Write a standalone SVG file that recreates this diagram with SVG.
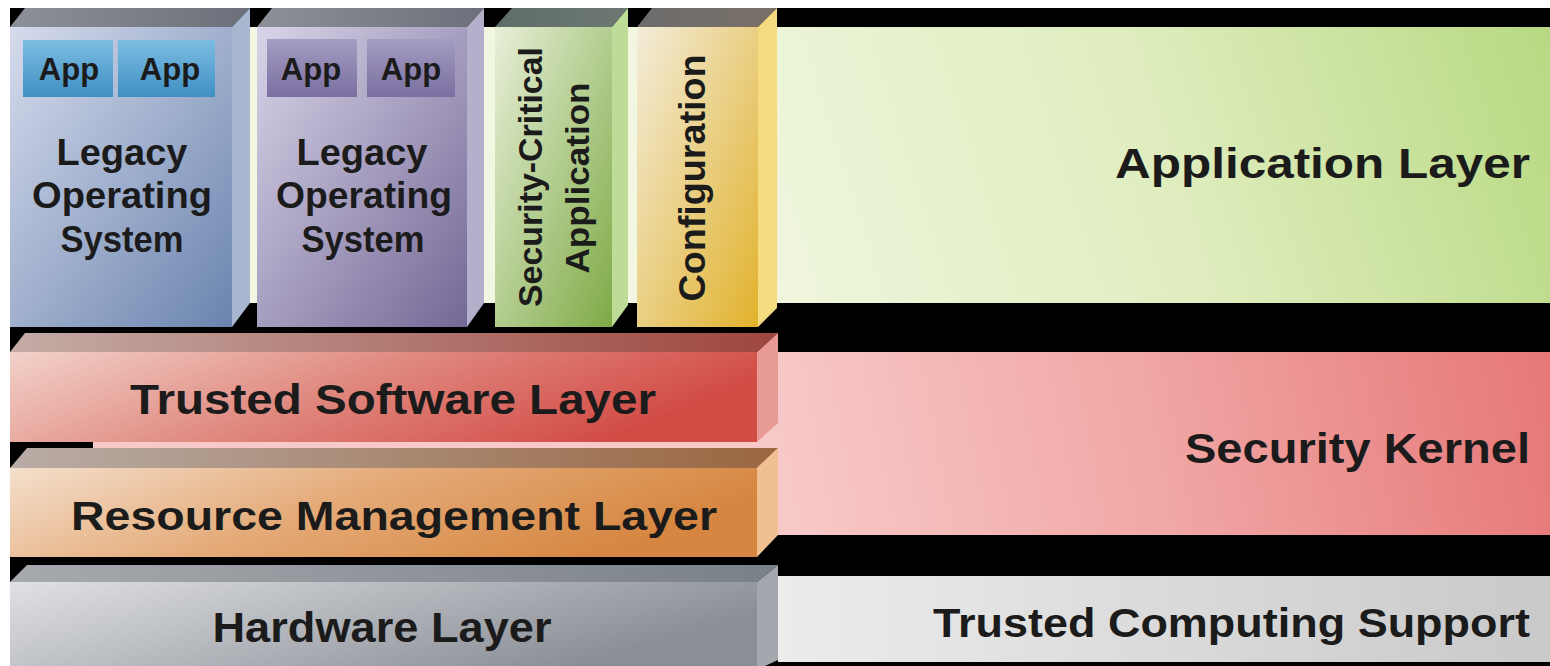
<svg xmlns="http://www.w3.org/2000/svg" width="1550" height="666" viewBox="0 0 1550 666">
  <defs>
    <linearGradient id="gGreenBand" gradientUnits="userSpaceOnUse" x1="700" y1="300" x2="1550" y2="30">
      <stop offset="0" stop-color="#f2f7e2"/>
      <stop offset="0.55" stop-color="#dfedbe"/>
      <stop offset="1" stop-color="#b8d982"/>
    </linearGradient>
    <linearGradient id="gRedBand" gradientUnits="userSpaceOnUse" x1="778" y1="520" x2="1550" y2="370">
      <stop offset="0" stop-color="#f7cac9"/>
      <stop offset="0.5" stop-color="#f0a6a4"/>
      <stop offset="1" stop-color="#e67878"/>
    </linearGradient>
    <linearGradient id="gGrayBand" gradientUnits="userSpaceOnUse" x1="778" y1="0" x2="1550" y2="0">
      <stop offset="0" stop-color="#ececec"/>
      <stop offset="1" stop-color="#c9c9c9"/>
    </linearGradient>
    <linearGradient id="gB1" x1="0" y1="0" x2="1" y2="1">
      <stop offset="0" stop-color="#d6dbec"/>
      <stop offset="1" stop-color="#6a84ae"/>
    </linearGradient>
    <linearGradient id="gB2" x1="0" y1="0" x2="1" y2="1">
      <stop offset="0" stop-color="#d8d4e8"/>
      <stop offset="1" stop-color="#746896"/>
    </linearGradient>
    <linearGradient id="gB3" x1="0" y1="0" x2="1" y2="1">
      <stop offset="0" stop-color="#e8efd8"/>
      <stop offset="1" stop-color="#7eaa46"/>
    </linearGradient>
    <linearGradient id="gB4" x1="0" y1="0" x2="1" y2="1">
      <stop offset="0" stop-color="#f3ecda"/>
      <stop offset="1" stop-color="#e1b22c"/>
    </linearGradient>
    <linearGradient id="gTop" x1="0" y1="0" x2="1" y2="0">
      <stop offset="0" stop-color="#8c9098"/>
      <stop offset="1" stop-color="#6c707a"/>
    </linearGradient>
    <linearGradient id="gTopG" x1="0" y1="0" x2="1" y2="0">
      <stop offset="0" stop-color="#5f6e68"/>
      <stop offset="1" stop-color="#6e7872"/>
    </linearGradient>
    <linearGradient id="gTopY" x1="0" y1="0" x2="1" y2="0">
      <stop offset="0" stop-color="#6c6c6c"/>
      <stop offset="1" stop-color="#7a7068"/>
    </linearGradient>
    <linearGradient id="gAppBlue" x1="0" y1="0" x2="0" y2="1">
      <stop offset="0" stop-color="#7cbde2"/>
      <stop offset="1" stop-color="#3f8fc4"/>
    </linearGradient>
    <linearGradient id="gAppPurple" x1="0" y1="0" x2="0" y2="1">
      <stop offset="0" stop-color="#a49cc2"/>
      <stop offset="1" stop-color="#7a6fa0"/>
    </linearGradient>
    <linearGradient id="gTsF" x1="0" y1="0" x2="1" y2="0.3">
      <stop offset="0" stop-color="#f2d2ca"/>
      <stop offset="0.5" stop-color="#e08a80"/>
      <stop offset="1" stop-color="#d24c46"/>
    </linearGradient>
    <linearGradient id="gTsT" x1="0" y1="0" x2="1" y2="0">
      <stop offset="0" stop-color="#c4aca6"/>
      <stop offset="1" stop-color="#9e463e"/>
    </linearGradient>
    <linearGradient id="gRmF" x1="0" y1="0" x2="1" y2="0.3">
      <stop offset="0" stop-color="#f4dfcc"/>
      <stop offset="0.5" stop-color="#e4aa78"/>
      <stop offset="1" stop-color="#d68640"/>
    </linearGradient>
    <linearGradient id="gRmT" x1="0" y1="0" x2="1" y2="0">
      <stop offset="0" stop-color="#b8aca6"/>
      <stop offset="1" stop-color="#9a6640"/>
    </linearGradient>
    <linearGradient id="gHwF" x1="0" y1="0" x2="1" y2="0.4">
      <stop offset="0" stop-color="#e0e1e4"/>
      <stop offset="0.5" stop-color="#b4b7bc"/>
      <stop offset="1" stop-color="#8a8e96"/>
    </linearGradient>
    <linearGradient id="gHwT" x1="0" y1="0" x2="1" y2="0">
      <stop offset="0" stop-color="#a6aaae"/>
      <stop offset="1" stop-color="#7a8088"/>
    </linearGradient>
  </defs>
  <style>
    .t { font-family: "Liberation Sans", Arial, sans-serif; font-weight: bold; fill: #1b1b1b; }
    .c { text-anchor: middle; }
    .r { text-anchor: end; }
  </style>

  <!-- background -->
  <rect x="0" y="0" width="1550" height="666" fill="#ffffff"/>
  <rect x="10" y="8" width="1540" height="658" fill="#000000"/>

  <!-- background bands -->
  <g id="band-application">
    <rect x="10" y="27" width="1540" height="276" fill="url(#gGreenBand)"/>
    <text class="t r" x="1530" y="178" font-size="42" textLength="415" lengthAdjust="spacingAndGlyphs">Application Layer</text>
  </g>
  <g id="band-kernel">
    <rect x="93" y="352" width="1457" height="183" fill="url(#gRedBand)"/>
    <text class="t r" x="1530" y="463" font-size="42" textLength="345" lengthAdjust="spacingAndGlyphs">Security Kernel</text>
  </g>
  <g id="band-tcs">
    <rect x="778" y="576" width="772" height="86" fill="url(#gGrayBand)"/>
    <text class="t r" x="1530" y="637" font-size="40" textLength="597" lengthAdjust="spacingAndGlyphs">Trusted Computing Support</text>
  </g>

  <!-- box 1 -->
  <g id="legacy-os-1">
    <polygon points="10,27 25,8 250,8 232,27" fill="url(#gTop)"/>
    <polygon points="232,27 250,8 250,303 232,327" fill="#a9b6d0"/>
    <rect x="10" y="27" width="222" height="300" fill="url(#gB1)"/>
    <rect x="23" y="40" width="90" height="57" fill="url(#gAppBlue)"/>
    <rect x="118" y="40" width="97" height="57" fill="url(#gAppBlue)"/>
    <text class="t c" x="69" y="80" font-size="31">App</text>
    <text class="t c" x="170" y="80" font-size="31">App</text>
    <text class="t c" x="122" y="165" font-size="36" textLength="131" lengthAdjust="spacingAndGlyphs">Legacy</text>
    <text class="t c" x="122" y="208" font-size="36" textLength="180" lengthAdjust="spacingAndGlyphs">Operating</text>
    <text class="t c" x="122" y="252" font-size="36" textLength="123" lengthAdjust="spacingAndGlyphs">System</text>
  </g>

  <!-- box 2 -->
  <g id="legacy-os-2">
    <polygon points="257,27 272,8 484,8 467,27" fill="url(#gTop)"/>
    <polygon points="467,27 484,8 484,303 467,327" fill="#b4b0cc"/>
    <rect x="257" y="27" width="210" height="300" fill="url(#gB2)"/>
    <rect x="267" y="39" width="90" height="58" fill="url(#gAppPurple)"/>
    <rect x="367" y="39" width="88" height="58" fill="url(#gAppPurple)"/>
    <text class="t c" x="311" y="80" font-size="31">App</text>
    <text class="t c" x="411" y="80" font-size="31">App</text>
    <text class="t c" x="362" y="165" font-size="36" textLength="131" lengthAdjust="spacingAndGlyphs">Legacy</text>
    <text class="t c" x="364" y="208" font-size="36" textLength="176" lengthAdjust="spacingAndGlyphs">Operating</text>
    <text class="t c" x="363" y="252" font-size="36" textLength="123" lengthAdjust="spacingAndGlyphs">System</text>
  </g>

  <!-- box 3 -->
  <g id="security-critical-app">
    <polygon points="495,27 512,8 628,8 612,27" fill="url(#gTopG)"/>
    <polygon points="612,27 628,8 628,305 612,327" fill="#bcdc98"/>
    <rect x="495" y="27" width="117" height="300" fill="url(#gB3)"/>
    <text class="t c" transform="translate(542,177) rotate(-90)" font-size="34" textLength="260" lengthAdjust="spacingAndGlyphs">Security-Critical</text>
    <text class="t c" transform="translate(589,178) rotate(-90)" font-size="34" textLength="191" lengthAdjust="spacingAndGlyphs">Application</text>
  </g>

  <!-- box 4 -->
  <g id="configuration">
    <polygon points="637,27 652,8 777,8 758,27" fill="url(#gTopY)"/>
    <polygon points="758,27 777,8 777,308 758,327" fill="#f6dc80"/>
    <rect x="637" y="27" width="121" height="300" fill="url(#gB4)"/>
    <text class="t c" transform="translate(705,178) rotate(-90)" font-size="36" textLength="247" lengthAdjust="spacingAndGlyphs">Configuration</text>
  </g>

  <!-- trusted software layer -->
  <g id="trusted-software-layer">
    <polygon points="10,352 25,333 778,333 757,352" fill="url(#gTsT)"/>
    <polygon points="757,352 778,333 778,423 757,442" fill="#e89a94"/>
    <rect x="10" y="352" width="747" height="90" fill="url(#gTsF)"/>
    <text class="t c" x="393" y="414" font-size="42" textLength="526" lengthAdjust="spacingAndGlyphs">Trusted Software Layer</text>
  </g>

  <!-- resource management layer -->
  <g id="resource-management-layer">
    <polygon points="10,468 27,448 778,448 757,468" fill="url(#gRmT)"/>
    <polygon points="757,468 778,448 778,535 757,557" fill="#f0c090"/>
    <rect x="10" y="468" width="747" height="89" fill="url(#gRmF)"/>
    <text class="t c" x="394" y="530" font-size="40" textLength="646" lengthAdjust="spacingAndGlyphs">Resource Management Layer</text>
  </g>

  <!-- hardware layer -->
  <g id="hardware-layer">
    <polygon points="10,582 27,565 778,565 757,582" fill="url(#gHwT)"/>
    <polygon points="757,582 778,565 778,660 765,666 757,666" fill="#a4a8ae"/>
    <rect x="10" y="582" width="747" height="84" fill="url(#gHwF)"/>
    <text class="t c" x="382" y="642" font-size="42" textLength="339" lengthAdjust="spacingAndGlyphs">Hardware Layer</text>
  </g>

  <g id="connectors"/>
</svg>
